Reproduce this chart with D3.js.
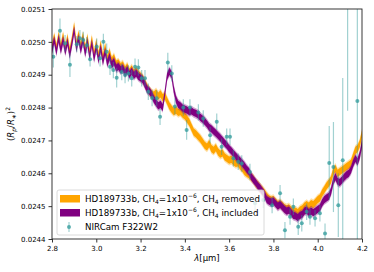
<!DOCTYPE html>
<html>
<head>
<meta charset="utf-8">
<script src="https://cdn.jsdelivr.net/npm/d3@7"></script>
<style>
  body { margin: 0; background: #fff; }
  svg { font-family: "DejaVu Sans", sans-serif; }
</style>
</head>
<body>
<svg id="chart" width="374" height="272"></svg>
<script>
// model wavelength grid (micron)
var modelWave = [2.80,2.81,2.82,2.83,2.84,2.85,2.86,2.87,2.88,2.89,2.90,2.91,2.92,2.93,2.94,2.95,2.96,2.97,2.98,2.99,
  3.00,3.01,3.02,3.03,3.04,3.05,3.06,3.07,3.08,3.09,3.10,3.11,3.12,3.13,3.14,3.15,3.16,3.17,3.18,3.19,
  3.20,3.21,3.22,3.23,3.24,3.25,3.26,3.27,3.28,3.29,3.30,3.31,3.32,3.33,3.34,3.35,3.36,3.37,3.38,3.39,
  3.40,3.41,3.42,3.43,3.44,3.45,3.46,3.47,3.48,3.49,3.50,3.51,3.52,3.53,3.54,3.55,3.56,3.57,3.58,3.59,
  3.60,3.61,3.62,3.63,3.64,3.65,3.66,3.67,3.68,3.69,3.70,3.71,3.72,3.73,3.74,3.75,3.76,3.77,3.78,3.79,
  3.80,3.81,3.82,3.83,3.84,3.85,3.86,3.87,3.88,3.89,3.90,3.91,3.92,3.93,3.94,3.95,3.96,3.97,3.98,3.99,
  4.00,4.01,4.02,4.03,4.04,4.05,4.06,4.07,4.08,4.09,4.10,4.11,4.12,4.13,4.14,4.15,4.16,4.17,4.18,4.19,4.20];

// CH4 removed model
var modelRemoved = [0.024985,0.025015,0.024982,0.025020,0.024985,0.025018,0.024980,0.025012,0.024972,0.025005,
  0.025048,0.024992,0.025022,0.024988,0.025018,0.024978,0.025012,0.024968,0.025008,0.024962,
  0.024998,0.024958,0.024992,0.024952,0.024985,0.024948,0.024968,0.024942,0.024952,0.024932,
  0.024936,0.024925,0.024930,0.024915,0.024924,0.024908,0.024918,0.024905,0.024912,0.024902,
  0.024895,0.024888,0.024875,0.024860,0.024850,0.024842,0.024838,0.024845,0.024835,0.024842,
  0.024830,0.024835,0.024820,0.024805,0.024795,0.024788,0.024792,0.024785,0.024788,0.024780,
  0.024775,0.024765,0.024755,0.024740,0.024725,0.024720,0.024712,0.024705,0.024695,0.024685,
  0.024680,0.024690,0.024675,0.024670,0.024678,0.024665,0.024658,0.024662,0.024650,0.024645,
  0.024640,0.024642,0.024635,0.024630,0.024632,0.024622,0.024615,0.024605,0.024600,0.024595,
  0.024588,0.024582,0.024570,0.024565,0.024555,0.024548,0.024540,0.024530,0.024522,0.024518,
  0.024520,0.024512,0.024505,0.024508,0.024502,0.024495,0.024492,0.024495,0.024488,0.024482,
  0.024485,0.024480,0.024488,0.024492,0.024500,0.024505,0.024500,0.024508,0.024505,0.024512,
  0.024520,0.024525,0.024540,0.024550,0.024562,0.024570,0.024580,0.024605,0.024615,0.024600,
  0.024605,0.024610,0.024615,0.024620,0.024625,0.024630,0.024650,0.024670,0.024675,0.024690,0.024720];

// CH4 included model
var modelIncluded = [0.024975,0.025005,0.024970,0.025010,0.024975,0.025005,0.024970,0.025000,0.024960,0.024995,
  0.025035,0.024980,0.025010,0.024975,0.025005,0.024965,0.025000,0.024955,0.024995,0.024950,
  0.024985,0.024945,0.024980,0.024940,0.024970,0.024935,0.024955,0.024930,0.024940,0.024920,
  0.024925,0.024915,0.024920,0.024905,0.024915,0.024900,0.024910,0.024898,0.024905,0.024895,
  0.024890,0.024885,0.024870,0.024855,0.024850,0.024840,0.024825,0.024815,0.024805,0.024810,
  0.024800,0.024845,0.024895,0.024910,0.024900,0.024855,0.024825,0.024810,0.024805,0.024798,
  0.024795,0.024792,0.024788,0.024790,0.024785,0.024782,0.024778,0.024770,0.024765,0.024758,
  0.024750,0.024740,0.024735,0.024728,0.024722,0.024715,0.024708,0.024700,0.024692,0.024685,
  0.024675,0.024668,0.024660,0.024652,0.024645,0.024638,0.024630,0.024622,0.024612,0.024605,
  0.024590,0.024580,0.024572,0.024562,0.024555,0.024545,0.024535,0.024520,0.024515,0.024512,
  0.024515,0.024508,0.024500,0.024505,0.024498,0.024490,0.024485,0.024488,0.024480,0.024472,
  0.024470,0.024465,0.024472,0.024475,0.024485,0.024488,0.024480,0.024485,0.024480,0.024485,
  0.024490,0.024495,0.024510,0.024520,0.024525,0.024530,0.024545,0.024575,0.024590,0.024575,
  0.024572,0.024580,0.024588,0.024595,0.024600,0.024610,0.024630,0.024645,0.024635,0.024655,0.024690];

// NIRCam F322W2 points
var obsWave = [2.806,2.836,2.859,2.881,2.912,2.926,2.941,2.957,2.972,3.002,3.017,3.032,3.047,3.062,3.077,3.092,
  3.115,3.130,3.145,3.160,3.175,3.190,3.205,3.220,3.235,3.252,3.273,3.288,3.323,3.341,3.355,3.393,3.408,3.423,
  3.461,3.483,3.514,3.544,3.566,3.589,3.604,3.619,3.641,3.657,3.694,3.717,3.754,3.794,3.830,3.852,3.875,3.890,
  3.912,3.928,3.950,3.965,3.988,4.010,4.033,4.052,4.071,4.093,4.113,4.135,4.179];
var obsDepth = [0.024955,0.025034,0.024996,0.024930,0.024993,0.025011,0.025006,0.024990,0.024947,0.024985,0.024950,0.025000,0.024970,0.024924,0.024914,0.024891,
  0.024908,0.024899,0.024904,0.024889,0.024924,0.024922,0.024889,0.024889,0.024848,0.024829,0.024828,0.024772,0.024937,0.024904,0.024803,0.024800,0.024732,0.024800,
  0.024785,0.024767,0.024716,0.024757,0.024681,0.024711,0.024711,0.024646,0.024635,0.024630,0.024604,0.024509,0.024519,0.024503,0.024539,0.024427,0.024468,0.024498,
  0.024437,0.024448,0.024483,0.024468,0.024463,0.024478,0.024417,0.024631,0.024619,0.024503,0.024640,0.025150,0.024820];
var obsErr = [0.000033,0.000037,0.000025,0.000037,0.000025,0.000025,0.000025,0.000025,0.000022,0.000025,0.000025,0.000025,0.000025,0.000025,0.000025,0.000030,
  0.000025,0.000025,0.000025,0.000025,0.000025,0.000025,0.000025,0.000025,0.000025,0.000025,0.000025,0.000025,0.000030,0.000025,0.000025,0.000025,0.000030,0.000025,
  0.000025,0.000025,0.000025,0.000025,0.000025,0.000025,0.000025,0.000025,0.000025,0.000025,0.000025,0.000025,0.000025,0.000025,0.000025,0.000025,0.000025,0.000025,
  0.000025,0.000025,0.000025,0.000025,0.000025,0.000025,0.000030,0.000113,0.000137,0.000097,0.000250,0.000360,0.000600];

var xTicks = [2.8,3.0,3.2,3.4,3.6,3.8,4.0,4.2];
var yTicks = [0.0244,0.0245,0.0246,0.0247,0.0248,0.0249,0.0250,0.0251];

var margin = {top: 9, right: 12, bottom: 33, left: 52};
var svg = d3.select("#chart");
var width = +svg.attr("width"), height = +svg.attr("height");

var x = d3.scaleLinear().domain([2.8, 4.2]).range([margin.left, width - margin.right]);
var y = d3.scaleLinear().domain([0.0244, 0.0251]).range([height - margin.bottom, margin.top]);

svg.append("clipPath").attr("id", "plotclip")
  .append("rect")
  .attr("x", margin.left).attr("y", margin.top)
  .attr("width", width - margin.left - margin.right)
  .attr("height", height - margin.top - margin.bottom);

var plot = svg.append("g").attr("clip-path", "url(#plotclip)");

function band(vals, half) {
  return d3.area()
    .x(function(d, i) { return x(modelWave[i]); })
    .y0(function(d) { return y(d - half); })
    .y1(function(d) { return y(d + half); })(vals);
}

var models = [
  {vals: modelRemoved, color: "#ffa500"},
  {vals: modelIncluded, color: "#800080"}
];
models.forEach(function(m) {
  plot.append("path").attr("d", band(m.vals, 0.000016))
    .attr("fill", m.color).attr("opacity", 0.35);
  plot.append("path").attr("d", band(m.vals, 0.000011))
    .attr("fill", m.color).attr("opacity", 1);
});

// error bars
var teal = "#2f9a9a";
plot.selectAll("line.err")
  .data(obsWave)
  .join("line")
  .attr("class", "err")
  .attr("x1", function(d) { return x(d); })
  .attr("x2", function(d) { return x(d); })
  .attr("y1", function(d, i) { return y(obsDepth[i] - obsErr[i]); })
  .attr("y2", function(d, i) { return y(obsDepth[i] + obsErr[i]); })
  .attr("stroke", teal).attr("stroke-opacity", 0.45).attr("stroke-width", 1.2);

plot.selectAll("circle.pt")
  .data(obsWave)
  .join("circle")
  .attr("class", "pt")
  .attr("cx", function(d) { return x(d); })
  .attr("cy", function(d, i) { return y(obsDepth[i]); })
  .attr("r", 2)
  .attr("fill", teal).attr("fill-opacity", 0.75);

// axes
var xAxis = d3.axisBottom(x).tickValues(xTicks).tickSize(3.5).tickFormat(d3.format(".1f"));
var yAxis = d3.axisLeft(y).tickValues(yTicks).tickSize(3.5).tickFormat(d3.format(".4f"));

svg.append("g")
  .attr("transform", "translate(0," + (height - margin.bottom) + ")")
  .call(xAxis)
  .call(function(g) {
    g.select(".domain").remove();
    g.selectAll("text").attr("font-size", 7).attr("fill", "#000").attr("dy", "0.8em")
      .attr("font-family", "DejaVu Sans");
    g.selectAll("line").attr("stroke", "#000").attr("stroke-width", 0.8);
  });

svg.append("g")
  .attr("transform", "translate(" + margin.left + ",0)")
  .call(yAxis)
  .call(function(g) {
    g.select(".domain").remove();
    g.selectAll("text").attr("font-size", 7).attr("fill", "#000")
      .attr("font-family", "DejaVu Sans");
    g.selectAll("line").attr("stroke", "#000").attr("stroke-width", 0.8);
  });

// frame
svg.append("rect")
  .attr("x", margin.left).attr("y", margin.top)
  .attr("width", width - margin.left - margin.right)
  .attr("height", height - margin.top - margin.bottom)
  .attr("fill", "none").attr("stroke", "#222").attr("stroke-width", 0.9);

// axis labels
var xl = svg.append("text")
  .attr("x", (margin.left + width - margin.right) / 2)
  .attr("y", height - 11)
  .attr("text-anchor", "middle")
  .attr("font-size", 8.5);
xl.append("tspan").attr("font-style", "italic").text("λ");
xl.append("tspan").text("[μm]");

var yl = svg.append("text")
  .attr("transform", "translate(14," + ((margin.top + height - margin.bottom) / 2) + ") rotate(-90)")
  .attr("text-anchor", "middle")
  .attr("font-size", 8.5);
yl.append("tspan").text("(");
yl.append("tspan").attr("font-style", "italic").text("R");
yl.append("tspan").attr("font-size", 6).attr("dy", 2).attr("font-style", "italic").text("p");
yl.append("tspan").attr("dy", -2).text("/");
yl.append("tspan").attr("font-style", "italic").text("R");
yl.append("tspan").attr("font-size", 6).attr("dy", 2).text("∗");
yl.append("tspan").attr("dy", -2).text(")");
yl.append("tspan").attr("font-size", 6).attr("dy", -4).text("2");

// legend
var lg = svg.append("g");
lg.append("rect")
  .attr("x", 57).attr("y", 190).attr("width", 207).attr("height", 45).attr("rx", 2)
  .attr("fill", "#fff").attr("fill-opacity", 0.8)
  .attr("stroke", "#d0d0d0").attr("stroke-width", 0.8);

var legendRows = [
  {color: "#ffa500", tail: "removed", cy: 199},
  {color: "#800080", tail: "included", cy: 213}
];
legendRows.forEach(function(r) {
  lg.append("rect").attr("x", 60).attr("y", r.cy - 4).attr("width", 20).attr("height", 7.5)
    .attr("fill", r.color);
  var t = lg.append("text").attr("x", 85).attr("y", r.cy + 3).attr("font-size", 8.7);
  t.append("tspan").text("HD189733b, CH");
  t.append("tspan").attr("font-size", 6).attr("dy", 2).text("4");
  t.append("tspan").attr("dy", -2).text("=1x10");
  t.append("tspan").attr("font-size", 6).attr("dy", -4).text("−6");
  t.append("tspan").attr("dy", 4).text(", CH");
  t.append("tspan").attr("font-size", 6).attr("dy", 2).text("4");
  t.append("tspan").attr("dy", -2).text(" " + r.tail);
});
lg.append("line").attr("x1", 69).attr("x2", 69).attr("y1", 222).attr("y2", 232)
  .attr("stroke", teal).attr("stroke-opacity", 0.45).attr("stroke-width", 1.2);
lg.append("circle").attr("cx", 69).attr("cy", 227).attr("r", 2)
  .attr("fill", teal).attr("fill-opacity", 0.75);
lg.append("text").attr("x", 85).attr("y", 230).attr("font-size", 8.7).text("NIRCam F322W2");
</script>
</body>
</html>
